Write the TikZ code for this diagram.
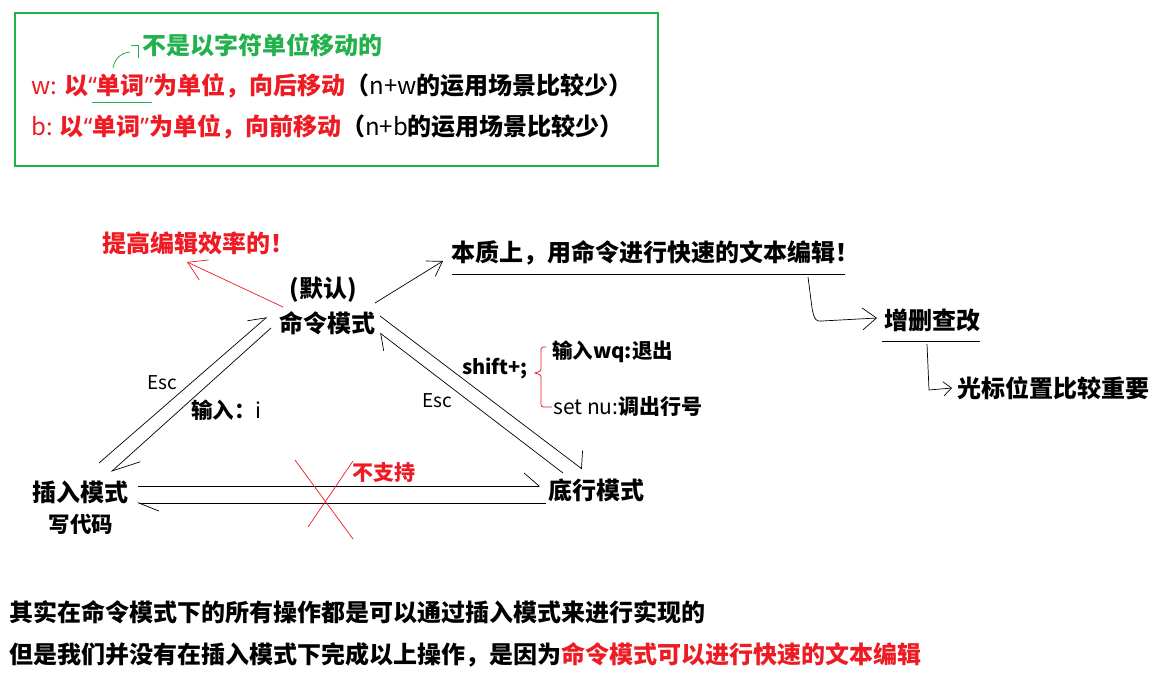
\documentclass[tikz,border=0pt]{standalone}
\usepackage{fontspec}
\setmainfont{Noto Sans CJK SC}
\newfontfamily\qf{Noto Sans}
\usetikzlibrary{arrows.meta}
\definecolor{myred}{RGB}{237,28,36}
\definecolor{mygreen}{RGB}{34,177,76}
\newcommand{\myLQ}{{\qf “}}
\newcommand{\myRQ}{{\qf ”}}
\begin{document}
\begin{tikzpicture}[x=1pt,y=-1pt,
  lbl/.style={inner sep=0pt, font=\fontsize{#1}{#1}\selectfont\bfseries},
  lbl/.default=24,
  lat/.style={inner sep=0pt, font=\fontsize{#1}{#1}\selectfont},
  lat/.default=19,
  conn/.style={line width=0.7pt},
  harp/.style 2 args={conn, -{Straight Barb[left,length=#1,width=#2]}},
  barb/.style 2 args={conn, -{Straight Barb[length=#1,width=#2]}}]
\useasboundingbox[fill=white] (0,0) rectangle (1159,682);

% top green box
\draw[mygreen, line width=2.5pt] (15,13) rectangle (658,166);
\node[lbl, text=mygreen, anchor=west] (note) at (142,45) {不是以字符单位移动的};
\node[lbl, anchor=west] (wline) at (31,86) {\textcolor{myred}{\mdseries w: }\textcolor{myred}{以\myLQ 单词\myRQ 为单位，向后移动}（\mdseries n+w\bfseries 的运用场景比较少）};
\node[lbl, anchor=west] (bline) at (31,127) {\textcolor{myred}{\mdseries b: }\textcolor{myred}{以\myLQ 单词\myRQ 为单位，向前移动}（\mdseries n+b\bfseries 的运用场景比较少）};
\coordinate (ulA) at (92,102);
\coordinate (ulB) at (152,102);
\draw[mygreen, line width=0.8pt] (ulA) -- (ulB);
\coordinate (cvA) at (113,68);
\coordinate (cvB) at (130,52);
\draw[mygreen, line width=0.8pt] (cvA) .. controls (115,58) and (121,53) .. (cvB);
\draw[mygreen, line width=0.8pt] (131,45) -- (138,45) -- (138,58);

% main nodes
\node[lbl, text=myred, anchor=west] (eff) at (102,243) {提高编辑效率的！};
\node[lbl] (dflt) at (323,290) {(默认)};
\node[lbl] (cmd) at (327,323) {命令模式};
\node[lbl, anchor=west] (ess) at (451,253) {本质上，用命令进行快速的文本编辑！};
\draw[line width=0.8pt] (452,274) -- (845,274);
\node[lbl] (crud) at (932,320) {增删查改};
\draw[line width=0.8pt] (882,341) -- (980,341);
\node[lbl, anchor=west] (cur) at (957,388) {光标位置比较重要};
\node[lbl] (ins) at (80,492) {插入模式};
\node[lbl=21.5] (code) at (81,524) {写代码};
\node[lbl] (bot) at (596,490) {底行模式};
\node[lat] (escL) at (162,383) {Esc};
\node[lbl=21.5, anchor=west] (inpi) at (191,410) {输入：\mdseries i};
\node[lbl=20] (shift) at (495,368) {shift+;};
\node[lat] (escR) at (437,401) {Esc};
\node[lbl=20.5, anchor=west] (wq) at (552,352) {输入wq:退出};
\node[lbl=21, anchor=west] (setnu) at (553,407) {\mdseries set nu:\bfseries 调出行号};
\node[lbl=21, text=myred] (nosup) at (384,473) {不支持};

% connectors
\coordinate (rA) at (283,307);
\coordinate (rB) at (187,262);
\draw[barb={18pt}{22pt}, myred] (rA) -- (rB);

\coordinate (kA) at (375,303);
\coordinate (kB) at (443,261);
\draw[barb={14pt}{18pt}] (kA) -- (kB);

\coordinate (eA) at (808,277);
\coordinate (eB) at (877,318);
\draw[barb={14pt}{22pt}] (eA) -- (811,300) .. controls (813,318) and (815,322) .. (822,321) -- (eB);

\coordinate (cA) at (927,344);
\coordinate (cB) at (952,388);
\draw[barb={8pt}{14pt}] (cA) -- (929,390) -- (cB);

\coordinate (i1) at (99,463);
\coordinate (c1) at (267,317);
\draw[harp={16pt}{20pt}] (i1) -- (c1);
\coordinate (c2) at (271,328);
\coordinate (i2) at (111,472);
\draw[harp={27pt}{24pt}] (c2) -- (i2);

\coordinate (i3) at (138,486);
\coordinate (b3) at (540,486);
\draw[harp={15pt}{26pt}] (i3) -- (b3);
\coordinate (b4) at (546,503);
\coordinate (i4) at (137,503);
\draw[harp={20pt}{16pt}] (b4) -- (i4);

\coordinate (c5) at (380,316);
\coordinate (b5) at (582,469);
\draw[harp={10pt}{30pt}] (c5) -- (b5);
\coordinate (b6) at (563,473);
\coordinate (c6) at (380,333);
\draw[harp={13pt}{24pt}] (b6) -- (c6);

% red cross
\draw[myred, line width=0.7pt] (295,460) -- (353,539);
\draw[myred, line width=0.7pt] (353,461) -- (308,527);

% red brace
\draw[myred, line width=0.8pt] (546,347) -- (543,347) .. controls (541,348) .. (541,352) -- (541,367)
  .. controls (541,371) .. (535,373) .. controls (541,375) .. (541,379) -- (541,401)
  .. controls (541,407) .. (546,407) -- (552,407);

% bottom text
\node[lbl, anchor=west] (l1) at (9,612) {其实在命令模式下的所有操作都是可以通过插入模式来进行实现的};
\node[lbl, anchor=west] (l2) at (9,655) {但是我们并没有在插入模式下完成以上操作，是因为\textcolor{myred}{命令模式可以进行快速的文本编辑}};
\end{tikzpicture}
\end{document}
